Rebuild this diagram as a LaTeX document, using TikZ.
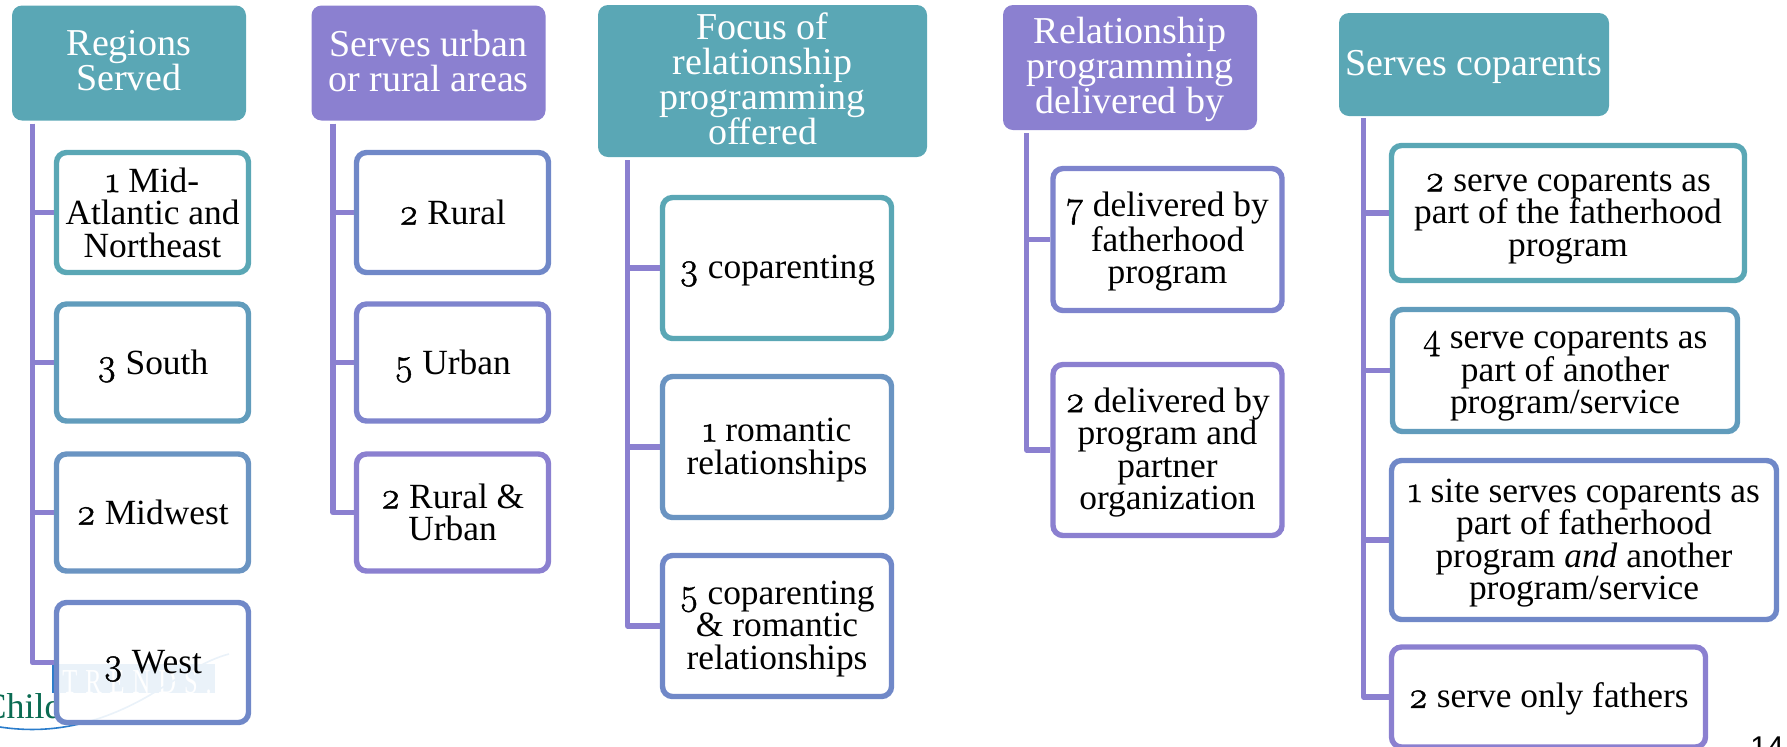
\documentclass[tikz,border=0pt]{standalone}
\usepackage{fontspec}
\setmainfont{Liberation Serif}
\newfontfamily\osfont[Numbers=OldStyle,FakeBold=1.2,Scale=1.06]{Latin Modern Roman}
\newfontfamily\pagefont{Liberation Sans}
\newfontfamily\trendsfont[FakeStretch=0.7]{Liberation Serif}
\usetikzlibrary{shapes.geometric, arrows}
\definecolor{tealc}{HTML}{5AA7B5}
\definecolor{lilac}{HTML}{8B80D0}
\definecolor{stepb}{HTML}{619CBC}
\definecolor{stepc}{HTML}{6A94C2}
\definecolor{stepd}{HTML}{7088C8}
\definecolor{stepe}{HTML}{7E84CD}
\definecolor{trendsblue}{HTML}{2A7CCB}
\definecolor{childgreen}{HTML}{0B6B52}
\newcommand{\nn}[1]{\smash{\osfont #1}}
\newcommand{\nm}[1]{\rule{0pt}{14.6pt}\nn{#1}}
\newcommand{\lowdepth}{\rule[-2.3pt]{0pt}{0pt}}
\tikzstyle{head} = [rectangle, rounded corners=5pt, inner sep=0pt, align=center, text=white, font=\fontsize{19}{17.5}\selectfont]
\tikzstyle{headup} = [execute at end node={\lowdepth}]
\tikzstyle{kid} = [rectangle, rounded corners=5pt, inner sep=0pt, align=center, text=black, line width=2.7pt, fill=white, fill opacity=.9, text opacity=1, font=\fontsize{17.7}{16.25}\selectfont]
\tikzstyle{spine} = [line width=2.8pt, draw=lilac, line join=round]
\begin{document}
\begin{tikzpicture}[x=0.5pt, y=-0.5pt, node distance=75pt]
\useasboundingbox (0,0) rectangle (1787,746);
\clip (0,0) rectangle (1787,746);

% logo in the corner, under the first column
\fill [trendsblue] (52,664) rectangle (215,693);
\node (trends) at (62,693) [anchor=base west, inner sep=0pt, text=white, font=\trendsfont\fontsize{17.5}{17.5}\selectfont] {T\kern4pt R\kern4pt E\kern4pt N\kern4pt D\kern4pt S\kern4pt .};
\node (child) at (63,718) [anchor=base east, inner sep=0pt, text=childgreen, font=\fontsize{18}{18}\selectfont] {Child};
\draw [trendsblue, line width=.8pt] (0,727) .. controls (40,733) and (90,730) .. (150,695) .. controls (175,680) and (205,660) .. (229,654);

% regions
\node (h1) at (129,63) [head, headup, fill=tealc, minimum width=117pt, minimum height=57.5pt] {Regions\\Served};
\node (a1) at (152.5,212.5) [kid, draw=tealc, minimum width=96pt, minimum height=60pt] {\nn{1} Mid-\\Atlantic and\\Northeast};
\node (a2) [kid, draw=stepb, below of=a1, minimum width=96pt, minimum height=58.5pt] {\nn{3} South};
\node (a3) [kid, draw=stepc, below of=a2, minimum width=96pt, minimum height=58.5pt] {\nn{2} Midwest};
\node (a4) [kid, draw=stepd, below of=a3, minimum width=96pt, minimum height=60pt] {\nn{3} West};

% urban or rural
\node (h2) at (428.5,63) [head, headup, fill=lilac, minimum width=117pt, minimum height=57.5pt] {Serves urban\\or rural areas};
\node (b1) at (452.5,212.5) [kid, draw=stepd, minimum width=96pt, minimum height=60pt] {\nn{2} Rural};
\node (b2) [kid, draw=stepe, below of=b1, minimum width=96pt, minimum height=58.5pt] {\nn{5} Urban};
\node (b3) [kid, draw=lilac, below of=b2, minimum width=96pt, minimum height=58.5pt] {\nn{2} Rural \&\\Urban};

% focus
\node (h3) at (762.5,81) [head, headup, fill=tealc, minimum width=164.5pt, minimum height=76pt] {Focus of\\relationship\\programming\\offered};
\node (c1) at (777,268) [kid, draw=tealc, minimum width=114.5pt, minimum height=70.5pt] {\nm{3} coparenting};
\node (c2) [kid, draw=stepc, below of=c1, yshift=-14.5pt, minimum width=114.5pt, minimum height=70.5pt] {\nm{1} romantic\\relationships};
\node (c3) [kid, draw=stepd, below of=c2, yshift=-14.5pt, minimum width=114.5pt, minimum height=70.5pt] {\nm{5} coparenting\\\& romantic\\relationships};

% delivered by
\node (h4) at (1130,67.5) [head, fill=lilac, minimum width=127pt, minimum height=62.5pt] {\rule{0pt}{15pt}Relationship\\programming\\delivered by};
\node (d1) at (1167.5,239.5) [kid, draw=stepe, minimum width=114.5pt, minimum height=71pt] {\nm{7} delivered by\\fatherhood\\program};
\node (d2) [kid, draw=lilac, below of=d1, yshift=-30.25pt, minimum width=114.5pt, minimum height=85.5pt] {\nm{2} delivered by\\program and\\partner\\organization};

% coparents
\node (h5) at (1474,64.5) [head, fill=tealc, minimum width=135pt, minimum height=51.5pt] {\rule{0pt}{15.5pt}Serves coparents};
\node (e1) at (1568,213) [kid, draw=tealc, minimum width=176.5pt, minimum height=67.5pt] {\nm{2} serve coparents as\\part of the fatherhood\\program};
\node (e2) at (1565,370.5) [kid, draw=stepb, minimum width=172.5pt, minimum height=61pt] {\nm{4} serve coparents as\\part of another\\program/service};
\node (e3) at (1584,540) [kid, draw=stepd, minimum width=192.5pt, minimum height=79.5pt] {\nm{1} site serves coparents as\\part of fatherhood\\program \textit{and} another\\program/service};
\node (e4) at (1548.5,697) [kid, draw=lilac, minimum width=157pt, minimum height=50pt] {\nm{2} serve only fathers};

\node (pageno) at (1750,757) [anchor=base west, inner sep=0pt, text=black, font=\pagefont\fontsize{15}{15}\selectfont] {14};

% spines
\coordinate (s1) at ([xshift=10.5pt, yshift=-1.5pt]h1.south west);
\coordinate (s2) at ([xshift=11pt, yshift=-1.5pt]h2.south west);
\coordinate (s3) at ([xshift=15pt, yshift=-1.5pt]h3.south west);
\coordinate (s4) at ([xshift=12pt, yshift=-1.5pt]h4.south west);
\coordinate (s5) at ([xshift=12.5pt, yshift=-1pt]h5.south west);
\foreach \k in {a1,a2,a3,a4} \draw [spine] (s1) |- (\k.west);
\foreach \k in {b1,b2,b3} \draw [spine] (s2) |- (\k.west);
\foreach \k in {c1,c2,c3} \draw [spine] (s3) |- (\k.west);
\foreach \k in {d1,d2} \draw [spine] (s4) |- (\k.west);
\foreach \k in {e1,e2,e3,e4} \draw [spine] (s5) |- (\k.west);
\end{tikzpicture}
\end{document}
